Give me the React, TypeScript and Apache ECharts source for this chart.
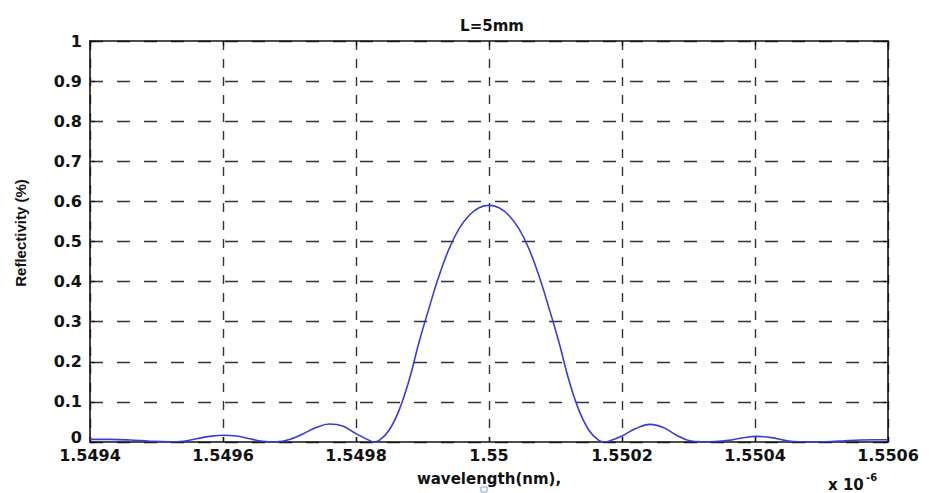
import React, { useEffect, useRef } from "react";
import * as echarts from "echarts";

// Wavelength samples (in units of 1e-6 m, i.e. µm) and reflectivity values
const wavelengthUm = [
  1.5494, 1.54943, 1.54946, 1.54949, 1.54952, 1.54954, 1.54956, 1.54958,
  1.5496, 1.54962, 1.54964, 1.54966, 1.54968, 1.5497, 1.54972, 1.54974,
  1.54976, 1.54978, 1.5498, 1.54982, 1.549827,
  1.549835, 1.54985, 1.549865, 1.54988, 1.549895, 1.54991, 1.549925,
  1.54994, 1.549955, 1.54997, 1.549985, 1.55,
  1.550015, 1.55003, 1.550045, 1.55006, 1.550075, 1.55009, 1.550105,
  1.55012, 1.550135, 1.55015, 1.550165,
  1.550174, 1.550182, 1.5502, 1.55022, 1.550242, 1.550262, 1.550282, 1.550302,
  1.55032, 1.55034, 1.55036, 1.55038, 1.550403, 1.550425, 1.550445, 1.550465,
  1.55049, 1.550515, 1.550535, 1.55056, 1.55058, 1.5506,
];

const reflectivity = [
  0.0065, 0.0065, 0.005, 0.002, 0.0005, 0.002, 0.008, 0.014,
  0.017, 0.015, 0.008, 0.002, 0.0005, 0.006, 0.02, 0.036,
  0.045, 0.04, 0.021, 0.004, 0.0,
  0.004, 0.03, 0.08, 0.155, 0.25, 0.335, 0.415,
  0.482, 0.532, 0.565, 0.584, 0.59,
  0.584, 0.565, 0.532, 0.482, 0.415, 0.335, 0.25,
  0.155, 0.08, 0.03, 0.004,
  0.0, 0.003, 0.015, 0.033, 0.044, 0.036, 0.017, 0.003,
  0.0005, 0.001, 0.004, 0.01, 0.014, 0.011, 0.004, 0.0005,
  0.0005, 0.001, 0.003, 0.005, 0.0055, 0.0055,
];

const xMin = 1.5494;
const xMax = 1.5506;
const xStep = 0.0002;
const yMin = 0;
const yMax = 1;
const yStep = 0.1;

const titleText = "L=5mm";
const xAxisTitle = "wavelength(nm),";
const yAxisTitle = "Reflectivity (%)";
const xScaleNote = "x 10";
const xScaleExp = "-6";

const FONT = "DejaVu Sans";
const INK = "#111";

export default function App() {
  const ref = useRef<HTMLDivElement>(null);

  useEffect(() => {
    document.body.style.margin = "0";
    if (!ref.current) return;
    const chart = echarts.init(ref.current, undefined, { renderer: "svg" });

    const xTickFmt = (v: number) => String(parseFloat(v.toFixed(4)));
    // the zero label sits a little above the corner so it clears the x labels
    const yTickFmt = (v: number) => {
      const s = String(parseFloat(v.toFixed(2)));
      return v === 0 ? `{z|${s}}` : s;
    };

    const boxLine = { show: true, onZero: false, lineStyle: { color: INK, width: 1.6 } };
    const innerTick = { show: true, inside: true, length: 5, lineStyle: { color: INK, width: 1.3 } };
    const labelStyle = { fontFamily: FONT, fontWeight: "bold" as const, fontSize: 16, color: INK };

    chart.setOption({
      animation: false,
      backgroundColor: "#ffffff",
      title: {
        text: titleText,
        left: 487,
        top: 13,
        textAlign: "center",
        textStyle: { fontFamily: FONT, fontWeight: "bold", fontSize: 15, color: INK },
      },
      grid: { left: 90, right: 41, top: 41, bottom: 51, containLabel: false },
      xAxis: [
        {
          type: "value",
          position: "bottom",
          min: xMin,
          max: xMax,
          interval: xStep,
          axisLine: boxLine,
          axisTick: innerTick,
          axisLabel: {
            ...labelStyle,
            lineHeight: 14,
            margin: 6,
            formatter: xTickFmt,
            showMinLabel: true,
            showMaxLabel: true,
          },
          splitLine: { show: true, lineStyle: { color: "#333", width: 1.4, type: [9, 9] } },
          name: xAxisTitle,
          nameLocation: "middle",
          nameGap: 29,
          nameMoveOverlap: false,
          nameTextStyle: { fontFamily: FONT, fontWeight: "bold", fontSize: 15, lineHeight: 15, color: INK },
        },
        {
          type: "value",
          position: "top",
          min: xMin,
          max: xMax,
          interval: xStep,
          axisLine: boxLine,
          axisTick: innerTick,
          axisLabel: { show: false },
          splitLine: { show: false },
        },
      ],
      yAxis: [
        {
          type: "value",
          position: "left",
          min: yMin,
          max: yMax,
          interval: yStep,
          axisLine: boxLine,
          axisTick: innerTick,
          axisLabel: {
            ...labelStyle,
            margin: 8,
            formatter: yTickFmt,
            rich: { z: { ...labelStyle, padding: [0, 0, 10, 0] } },
          },
          splitLine: { show: true, lineStyle: { color: "#333", width: 1.4, type: [13, 14] } },
        },
        {
          type: "value",
          position: "right",
          min: yMin,
          max: yMax,
          interval: yStep,
          axisLine: boxLine,
          axisTick: innerTick,
          axisLabel: { show: false },
          splitLine: { show: false },
        },
      ],
      series: [
        {
          type: "line",
          xAxisIndex: 0,
          yAxisIndex: 0,
          data: wavelengthUm.map((w, i) => [w, reflectivity[i]]),
          showSymbol: false,
          smooth: 0.4,
          clip: true,
          lineStyle: { color: "#3b3bd6", width: 1.6 },
        },
      ],
      graphic: [
        {
          type: "text",
          x: 20,
          y: 233,
          rotation: Math.PI / 2,
          style: {
            text: yAxisTitle,
            fontFamily: "Liberation Sans",
            fontWeight: "bold",
            fontSize: 15,
            fill: INK,
            align: "center",
            verticalAlign: "middle",
          },
        },
        {
          type: "text",
          x: 828,
          y: 485,
          style: {
            text: xScaleNote,
            fontFamily: FONT,
            fontWeight: "bold",
            fontSize: 15,
            fill: INK,
            align: "left",
            verticalAlign: "middle",
          },
        },
        {
          type: "text",
          x: 866,
          y: 477,
          style: {
            text: xScaleExp,
            fontFamily: FONT,
            fontWeight: "bold",
            fontSize: 10,
            fill: INK,
            align: "left",
            verticalAlign: "middle",
          },
        },
        {
          type: "rect",
          shape: { x: 481, y: 487, width: 6, height: 5 },
          style: { fill: "none", stroke: "#8fa0e0", lineWidth: 1 },
        },
      ],
    });

    return () => chart.dispose();
  }, []);

  return <div ref={ref} style={{ width: 929, height: 493 }} />;
}
